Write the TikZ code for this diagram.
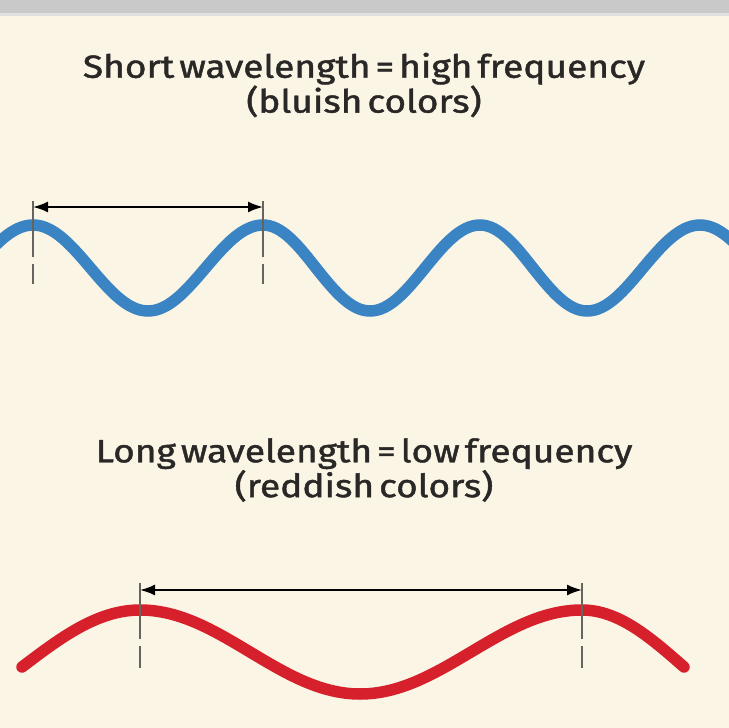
\documentclass[tikz,border=0pt]{standalone}
\usepackage{fontspec}
\setmainfont{Fira Sans}[FakeBold=1.4, FakeStretch=1.16]
\usetikzlibrary{arrows.meta}
\definecolor{paper}{HTML}{FBF5E6}
\definecolor{bargray}{HTML}{C9C9C9}
\definecolor{wavblue}{HTML}{3A84C4}
\definecolor{wavred}{HTML}{D6202B}
\definecolor{tickgray}{HTML}{66645F}
\definecolor{ink}{HTML}{2A2826}
\newcommand\capfont{\fontsize{32}{32}\selectfont\spaceskip=5pt plus 1pt\relax}
\tikzstyle{caption} = [align=center, font=\capfont, text=ink, inner sep=0pt]
\tikzstyle{wave} = [line width=11.5pt, line cap=round]
\tikzstyle{span} = [line width=2pt, {Latex[length=15pt,width=11pt]}-{Latex[length=15pt,width=11pt]}]
\tikzstyle{tick} = [tickgray, line width=1.6pt, dash pattern=on 56pt off 7pt on 30pt]

\begin{document}
\begin{tikzpicture}[x=1pt, y=-1pt]
\useasboundingbox (0,0) rectangle (729,728);
\fill[paper] (0,0) rectangle (729,728);
\fill[bargray] (0,0) rectangle (729,14);
\fill[black!12] (0,13) rectangle (729,15.5);

% short wavelength
\node (short) [caption] at (364,85) {Short wavelength = high frequency\\(bluish colors)};
\coordinate (b1) at (33,225);
\coordinate (b2) at (263,225);
\begin{scope}
\clip (0,0) rectangle (729,728);
\draw [wave, wavblue] (-25,268) sin (b1) cos (90.5,268) sin (148,311) cos (205.5,268)
  sin (b2) cos (316,268) sin (370,311) cos (425,268) sin (480,225) cos (533,268)
  sin (587,311) cos (643,268) sin (700,225) cos (757,268);
\end{scope}
\coordinate (b1top) at (33,201);
\coordinate (b2top) at (263,201);
\coordinate (b1end) at (33,284);
\coordinate (b2end) at (263,284);
\draw [tick] (b1top) -- (b1end);
\draw [tick] (b2top) -- (b2end);
\draw [span] ([yshift=-6pt]b1top) -- ([yshift=-6pt]b2top);

% long wavelength
\node (long) [caption] at (364,470) {Long wavelength = low frequency\\(reddish colors)};
\coordinate (r1) at (140,610);
\coordinate (r2) at (582,610);
\draw [wave, wavred] (22,667) sin (r1) cos (250,652) sin (360,694) cos (471,652)
  sin (r2) cos (684,667);
\coordinate (r1top) at (140,583);
\coordinate (r2top) at (582,583);
\coordinate (r1end) at (140,668);
\coordinate (r2end) at (582,668);
\draw [tick] (r1top) -- (r1end);
\draw [tick] (r2top) -- (r2end);
\draw [span] ([yshift=-7pt]r1top) -- ([yshift=-7pt]r2top);
\end{tikzpicture}
\end{document}
